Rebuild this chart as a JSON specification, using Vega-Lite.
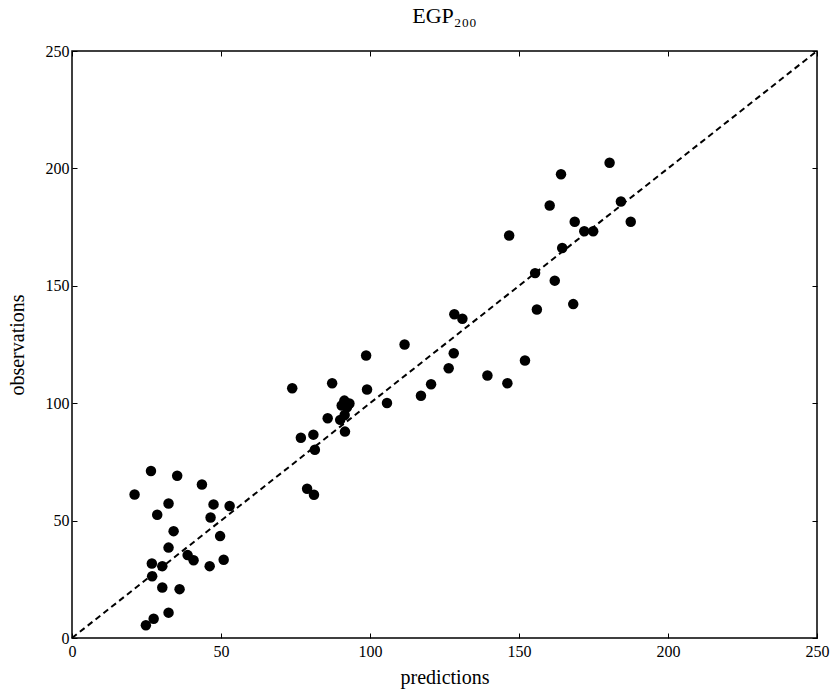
{
  "$schema": "https://vega.github.io/schema/vega-lite/v6.json",
  "autosize": {"type": "none"},
  "padding": {"left": 72, "top": 51, "right": 15, "bottom": 56},
  "width": 745,
  "height": 587,
  "background": "white",
  "config": {
    "font": "Liberation Serif",
    "view": {"stroke": "black", "strokeWidth": 1.5},
    "axis": {"grid": false, "domain": false, "tickColor": "black", "tickWidth": 1, "labelColor": "black", "titleColor": "black", "labelFont": "Liberation Serif", "titleFont": "Liberation Serif", "titleFontWeight": "normal"}
  },
  "title": {"text": "EGP₂₀₀", "font": "Liberation Serif", "fontSize": 22, "fontWeight": "normal", "color": "black", "anchor": "middle", "offset": 15},
  "datasets": {
    "pts": [
      {"pred": 26.5, "obs": 71.1}, {"pred": 35.3, "obs": 69.1}, {"pred": 43.6, "obs": 65.4}, {"pred": 21.0, "obs": 61.1},
      {"pred": 32.4, "obs": 57.3}, {"pred": 47.5, "obs": 56.9}, {"pred": 52.9, "obs": 56.2}, {"pred": 28.6, "obs": 52.5},
      {"pred": 46.5, "obs": 51.3}, {"pred": 34.1, "obs": 45.5}, {"pred": 49.7, "obs": 43.4}, {"pred": 32.4, "obs": 38.5},
      {"pred": 38.8, "obs": 35.3}, {"pred": 40.8, "obs": 33.1}, {"pred": 50.9, "obs": 33.3}, {"pred": 46.2, "obs": 30.6},
      {"pred": 26.8, "obs": 31.7}, {"pred": 30.3, "obs": 30.6}, {"pred": 26.9, "obs": 26.3}, {"pred": 30.3, "obs": 21.5},
      {"pred": 36.1, "obs": 20.8}, {"pred": 32.4, "obs": 10.8}, {"pred": 27.4, "obs": 8.2}, {"pred": 24.8, "obs": 5.4},
      {"pred": 73.9, "obs": 106.4}, {"pred": 87.3, "obs": 108.5}, {"pred": 98.7, "obs": 120.3}, {"pred": 111.6, "obs": 125.0},
      {"pred": 99.0, "obs": 105.8}, {"pred": 91.4, "obs": 101.1}, {"pred": 93.1, "obs": 99.9}, {"pred": 90.5, "obs": 99.0},
      {"pred": 92.3, "obs": 98.3}, {"pred": 105.7, "obs": 100.1}, {"pred": 85.8, "obs": 93.6}, {"pred": 90.0, "obs": 92.9},
      {"pred": 91.5, "obs": 95.0}, {"pred": 91.6, "obs": 87.9}, {"pred": 81.0, "obs": 86.6}, {"pred": 76.8, "obs": 85.3},
      {"pred": 81.5, "obs": 80.2}, {"pred": 78.9, "obs": 63.6}, {"pred": 81.2, "obs": 61.0},
      {"pred": 117.1, "obs": 103.2}, {"pred": 120.5, "obs": 108.1}, {"pred": 126.4, "obs": 114.9}, {"pred": 128.1, "obs": 121.3},
      {"pred": 139.4, "obs": 111.8}, {"pred": 146.1, "obs": 108.5}, {"pred": 152.0, "obs": 118.2},
      {"pred": 180.4, "obs": 202.4}, {"pred": 164.1, "obs": 197.5}, {"pred": 160.3, "obs": 184.2}, {"pred": 184.2, "obs": 185.9},
      {"pred": 168.7, "obs": 177.3}, {"pred": 187.5, "obs": 177.3}, {"pred": 171.9, "obs": 173.2}, {"pred": 174.9, "obs": 173.2},
      {"pred": 146.7, "obs": 171.4}, {"pred": 164.5, "obs": 166.1}, {"pred": 155.4, "obs": 155.4}, {"pred": 162.0, "obs": 152.2},
      {"pred": 168.2, "obs": 142.2}, {"pred": 156.0, "obs": 139.9}, {"pred": 128.3, "obs": 137.9}, {"pred": 131.0, "obs": 136.0}
    ],
    "diag": [{"pred": 0, "obs": 0}, {"pred": 250, "obs": 250}]
  },
  "layer": [
    {
      "data": {"name": "diag"},
      "mark": {"type": "line", "color": "black", "strokeWidth": 2, "strokeDash": [6, 4]},
      "encoding": {
        "x": {"field": "pred", "type": "quantitative", "scale": {"domain": [0, 250], "nice": false, "zero": false},
              "axis": {"orient": "top", "values": [0, 50, 100, 150, 200, 250], "labels": false, "title": null, "tickSize": 5, "offset": -5}},
        "y": {"field": "obs", "type": "quantitative", "scale": {"domain": [0, 250], "nice": false, "zero": false},
              "axis": {"orient": "right", "values": [0, 50, 100, 150, 200, 250], "labels": false, "title": null, "tickSize": 5, "offset": -5}}
      }
    },
    {
      "data": {"name": "pts"},
      "mark": {"type": "circle", "color": "black", "opacity": 1, "size": 110},
      "encoding": {
        "x": {"field": "pred", "type": "quantitative",
              "axis": {"orient": "bottom", "values": [0, 50, 100, 150, 200, 250], "tickSize": -5, "labelPadding": 10, "labelFont": "Liberation Serif", "labelFontSize": 16, "labelFlush": false, "labelOverlap": false, "title": "predictions", "titleFontSize": 20, "titlePadding": 8}},
        "y": {"field": "obs", "type": "quantitative",
              "axis": {"orient": "left", "values": [0, 50, 100, 150, 200, 250], "tickSize": -5, "labelPadding": 8, "labelFont": "Liberation Serif", "labelFontSize": 16, "labelFlush": false, "labelOverlap": false, "title": "observations", "titleFontSize": 20, "titlePadding": 18}}
      }
    }
  ],
  "resolve": {"axis": {"x": "independent", "y": "independent"}}
}
